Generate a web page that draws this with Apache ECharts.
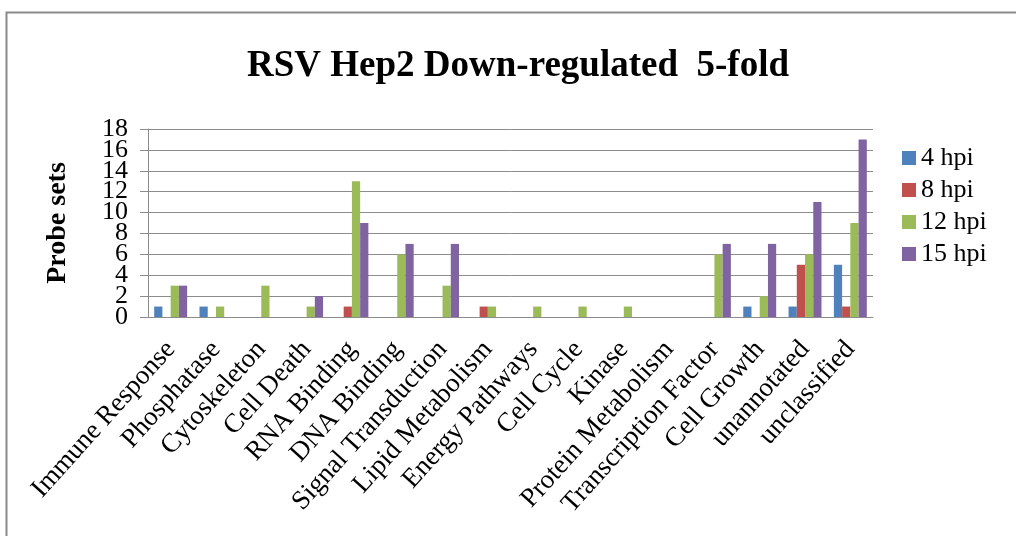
<!DOCTYPE html>
<html>
<head>
<meta charset="utf-8">
<title>RSV Hep2 Down-regulated 5-fold</title>
<script src="https://cdn.jsdelivr.net/npm/echarts@6/dist/echarts.min.js"></script>
<style>
  html, body { margin: 0; padding: 0; background: #ffffff; }
  #chart { width: 1016px; height: 536px; }
</style>
</head>
<body>
<div id="chart"></div>
<script>
// Functional categories of probe sets down-regulated at least 5-fold
var categories = [
  'Immune Response', 'Phosphatase', 'Cytoskeleton', 'Cell Death', 'RNA Binding',
  'DNA Binding', 'Signal Transduction', 'Lipid Metabolism', 'Energy Pathways',
  'Cell Cycle', 'Kinase', 'Protein Metabolism', 'Transcription Factor',
  'Cell Growth', 'unannotated', 'unclassified'
];

// Probe set counts per time point (hours post infection)
var hpi4  = [1, 1, 0, 0, 0, 0, 0, 0, 0, 0, 0, 0, 0, 1, 1, 5];
var hpi8  = [0, 0, 0, 0, 1, 0, 0, 1, 0, 0, 0, 0, 0, 0, 5, 1];
var hpi12 = [3, 1, 3, 1, 13, 6, 3, 1, 1, 1, 1, 0, 6, 2, 6, 9];
var hpi15 = [3, 0, 0, 2, 9, 7, 7, 0, 0, 0, 0, 0, 7, 7, 11, 17];

var seriesNames = ['4 hpi', '8 hpi', '12 hpi', '15 hpi'];
var seriesData = [hpi4, hpi8, hpi12, hpi15];
var seriesColors = ['#4F81BD', '#C0504D', '#9BBB59', '#8064A2'];

// Value axis range and the ticks next to the ends of the range
var yMin = 0;
var yMax = 18;
var yStep = 2;
var innerEndTicks = [2, 16];

var serif = "'Liberation Serif', 'Times New Roman', serif";
var gridColor = '#8c8c8c';

var chart = echarts.init(document.getElementById('chart'), null, { renderer: 'canvas' });

var series = seriesNames.map(function (name, i) {
  return {
    name: name,
    type: 'bar',
    yAxisIndex: 0,
    data: seriesData[i],
    itemStyle: { color: seriesColors[i] },
    barGap: '0%',
    barCategoryGap: '27.3%',
    animation: false
  };
});

var tickLabelStyle = {
  fontFamily: serif,
  fontSize: 26,
  color: '#000000'
};

// The tall serif tick labels overlap; the labels beside 0 and 18 are
// drawn by a second, line-less axis so that none of them get dropped.
function isInnerEnd(v) { return innerEndTicks.indexOf(v) !== -1; }

chart.setOption({
  backgroundColor: '#ffffff',
  animation: false,
  title: {
    text: 'RSV Hep2 Down-regulated  5-fold',
    left: 242,
    top: 43,
    textStyle: {
      fontFamily: serif,
      fontWeight: 'bold',
      fontSize: 37,
      color: '#000000'
    }
  },
  legend: {
    orient: 'vertical',
    left: 897,
    top: 140,
    icon: 'rect',
    itemWidth: 14,
    itemHeight: 14,
    itemGap: 6,
    textStyle: {
      fontFamily: serif,
      fontSize: 26,
      lineHeight: 24,
      color: '#000000'
    },
    data: seriesNames
  },
  grid: {
    left: 148,
    top: 129,
    right: 143,
    bottom: 219,
    containLabel: false
  },
  xAxis: {
    type: 'category',
    data: categories,
    axisLine: { show: true, lineStyle: { color: gridColor, width: 1 } },
    axisTick: { show: false },
    axisLabel: {
      interval: 0,
      rotate: 48,
      margin: 28,
      fontFamily: serif,
      fontSize: 27,
      color: '#000000'
    }
  },
  yAxis: [
    {
      type: 'value',
      position: 'left',
      min: yMin,
      max: yMax,
      interval: yStep,
      name: 'Probe sets',
      nameLocation: 'middle',
      nameGap: 76,
      nameTextStyle: {
        fontFamily: serif,
        fontWeight: 'bold',
        fontSize: 28,
        color: '#000000'
      },
      axisLine: { show: true, lineStyle: { color: gridColor, width: 1 } },
      axisTick: { show: true, inside: false, length: 8, lineStyle: { color: gridColor } },
      axisLabel: Object.assign({
        margin: 20,
        showMinLabel: true,
        showMaxLabel: true,
        hideOverlap: false,
        formatter: function (v) { return isInnerEnd(v) ? '' : String(v); }
      }, tickLabelStyle),
      splitLine: { show: true, lineStyle: { color: gridColor, width: 1 } }
    },
    {
      type: 'value',
      position: 'left',
      min: yMin,
      max: yMax,
      interval: yStep,
      axisLine: { show: false },
      axisTick: { show: false },
      splitLine: { show: false },
      axisLabel: Object.assign({
        margin: 20,
        showMinLabel: true,
        showMaxLabel: true,
        hideOverlap: false,
        formatter: function (v) { return isInnerEnd(v) ? String(v) : ''; }
      }, tickLabelStyle)
    }
  ],
  graphic: [
    {
      type: 'rect',
      left: 4,
      top: 10,
      shape: { width: 1100, height: 700 },
      style: { fill: 'none', stroke: '#8a8a8a', lineWidth: 2 },
      silent: true,
      z: 100
    }
  ],
  series: series
});
</script>
</body>
</html>
